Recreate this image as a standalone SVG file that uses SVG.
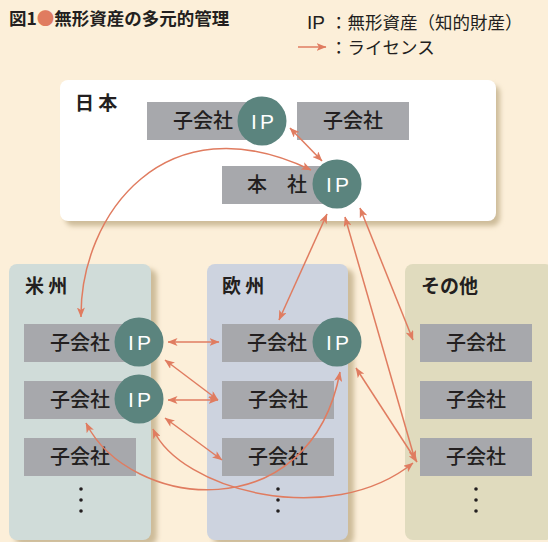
<svg xmlns="http://www.w3.org/2000/svg" width="548" height="542" viewBox="0 0 548 542">
<defs>
<style>
.bg{fill:#FCEFD9}
.sh{fill:#CDBC9A;filter:url(#blur)}
.box{fill:#A7A8AC}
.ip{fill:#5B847E}
.t{font-family:"Noto Sans CJK JP","Liberation Sans",sans-serif;fill:#231F20}
.bt{font-size:20px;font-weight:500;text-anchor:middle}
.rl{font-size:19px;font-weight:bold}
.ipt{font-family:"Liberation Sans","Noto Sans",sans-serif;font-size:21px;fill:#FFFFFF;text-anchor:middle;letter-spacing:3px}
.c{fill:none;stroke:#E07C60;stroke-width:1.5;marker-start:url(#ah);marker-end:url(#ah)}
.dot{fill:#231F20}
</style>
<filter id="blur" x="-10%" y="-10%" width="130%" height="130%"><feGaussianBlur stdDeviation="2.5"/></filter>
<marker id="ah" viewBox="0 0 10 8" refX="9.5" refY="4" markerWidth="10" markerHeight="8" markerUnits="userSpaceOnUse" orient="auto-start-reverse">
<path d="M0,0 L10,4 L0,8 L2.5,4 Z" fill="#E07C60"/>
</marker>
<marker id="ah1" viewBox="0 0 10 8" refX="9.5" refY="4" markerWidth="10" markerHeight="8" markerUnits="userSpaceOnUse" orient="auto">
<path d="M0,0 L10,4 L0,8 L2.5,4 Z" fill="#E07C60"/>
</marker>
</defs>
<rect class="bg" x="0" y="0" width="548" height="542"/>

<g id="title">
<text class="t" x="9" y="25" font-size="17.5" font-weight="bold">図1<tspan fill="#E07C60">●</tspan>無形資産の多元的管理</text>
</g>
<g id="legend">
<text class="t" x="307" y="29" font-size="19"><tspan font-family="Liberation Sans, sans-serif">IP</tspan></text>
<text class="t" x="330" y="29" font-size="17.5">：無形資産（知的財産）</text>
<line x1="298" y1="47" x2="326" y2="47" stroke="#E07C60" stroke-width="1.5" marker-end="url(#ah1)"/>
<text class="t" x="330" y="54" font-size="17.5">：ライセンス</text>
</g>

<g id="japan">
<rect class="sh" x="65" y="85" width="435" height="141" rx="8"/>
<rect x="60" y="80" width="436" height="141" rx="8" fill="#FFFFFF"/>
<text class="t rl" x="75" y="110">日 本</text>
</g>
<g id="americas">
<rect class="sh" x="15" y="269" width="142" height="276" rx="8"/>
<rect x="9" y="264" width="142" height="276" rx="8" fill="#D0DCD9"/>
<text class="t rl" x="25" y="293">米 州</text>
</g>
<g id="europe">
<rect class="sh" x="213" y="269" width="141" height="276" rx="8"/>
<rect x="207" y="264" width="141" height="276" rx="8" fill="#CDD3DF"/>
<text class="t rl" x="222" y="293">欧 州</text>
</g>
<g id="other">
<rect x="405" y="264" width="148" height="276" rx="8" fill="#E0DBBE"/>
<text class="t rl" x="421" y="293">その他</text>
</g>

<g id="jp-sub1">
<rect class="box" x="147" y="102" width="112" height="38"/>
<text class="t bt" x="203" y="128">子会社</text>
<circle class="ip" cx="262" cy="121" r="24.5"/>
<text class="ipt" x="264" y="128.5">IP</text>
</g>
<g id="jp-sub2">
<rect class="box" x="297" y="102" width="112" height="38"/>
<text class="t bt" x="353" y="128">子会社</text>
</g>
<g id="jp-hq">
<rect class="box" x="222" y="166" width="112" height="38"/>
<text class="t bt" x="277" y="192">本　社</text>
<circle class="ip" cx="337" cy="184" r="24.5"/>
<text class="ipt" x="339" y="191.5">IP</text>
</g>

<g id="am-sub1">
<rect class="box" x="24" y="324" width="112" height="38"/>
<text class="t bt" x="80" y="350">子会社</text>
<circle class="ip" cx="139" cy="342" r="24.5"/>
<text class="ipt" x="141" y="349.5">IP</text>
</g>
<g id="am-sub2">
<rect class="box" x="24" y="381" width="112" height="38"/>
<text class="t bt" x="80" y="407">子会社</text>
<circle class="ip" cx="139" cy="399" r="24.5"/>
<text class="ipt" x="141" y="406.5">IP</text>
</g>
<g id="am-sub3">
<rect class="box" x="24" y="438" width="112" height="38"/>
<text class="t bt" x="80" y="464">子会社</text>
</g>
<g id="am-more">
<circle class="dot" cx="81" cy="489" r="1.8"/><circle class="dot" cx="81" cy="500" r="1.8"/><circle class="dot" cx="81" cy="511" r="1.8"/>
</g>

<g id="eu-sub1">
<rect class="box" x="222" y="324" width="112" height="38"/>
<text class="t bt" x="277" y="350">子会社</text>
<circle class="ip" cx="337" cy="342" r="24.5"/>
<text class="ipt" x="339" y="349.5">IP</text>
</g>
<g id="eu-sub2">
<rect class="box" x="222" y="381" width="112" height="38"/>
<text class="t bt" x="278" y="407">子会社</text>
</g>
<g id="eu-sub3">
<rect class="box" x="222" y="438" width="112" height="38"/>
<text class="t bt" x="278" y="464">子会社</text>
</g>
<g id="eu-more">
<circle class="dot" cx="278" cy="489" r="1.8"/><circle class="dot" cx="278" cy="500" r="1.8"/><circle class="dot" cx="278" cy="511" r="1.8"/>
</g>

<g id="ot-sub1">
<rect class="box" x="420" y="324" width="112" height="38"/>
<text class="t bt" x="476" y="350">子会社</text>
</g>
<g id="ot-sub2">
<rect class="box" x="420" y="381" width="112" height="38"/>
<text class="t bt" x="476" y="407">子会社</text>
</g>
<g id="ot-sub3">
<rect class="box" x="420" y="438" width="112" height="38"/>
<text class="t bt" x="476" y="464">子会社</text>
</g>
<g id="ot-more">
<circle class="dot" cx="476" cy="489" r="1.8"/><circle class="dot" cx="476" cy="500" r="1.8"/><circle class="dot" cx="476" cy="511" r="1.8"/>
</g>

<g id="connectors">
<path class="c" d="M290,128 L322,161"/>
<path class="c" d="M81,317 C80,215 165,100 311,170"/>
<path class="c" d="M279,320 L327,214"/>
<path class="c" d="M345,217 L415,460"/>
<path class="c" d="M360,208 L413,340"/>
<path class="c" d="M168,342 L219,342"/>
<path class="c" d="M165,360 L218,400"/>
<path class="c" d="M168,400 L218,400"/>
<path class="c" d="M165,418 L222,460"/>
<path class="c" d="M86,423 C130,510 310,530 340,372"/>
<path class="c" d="M153,429 C180,490 330,530 413,463"/>
<path class="c" d="M356,368 L417,462"/>
</g>
</svg>
